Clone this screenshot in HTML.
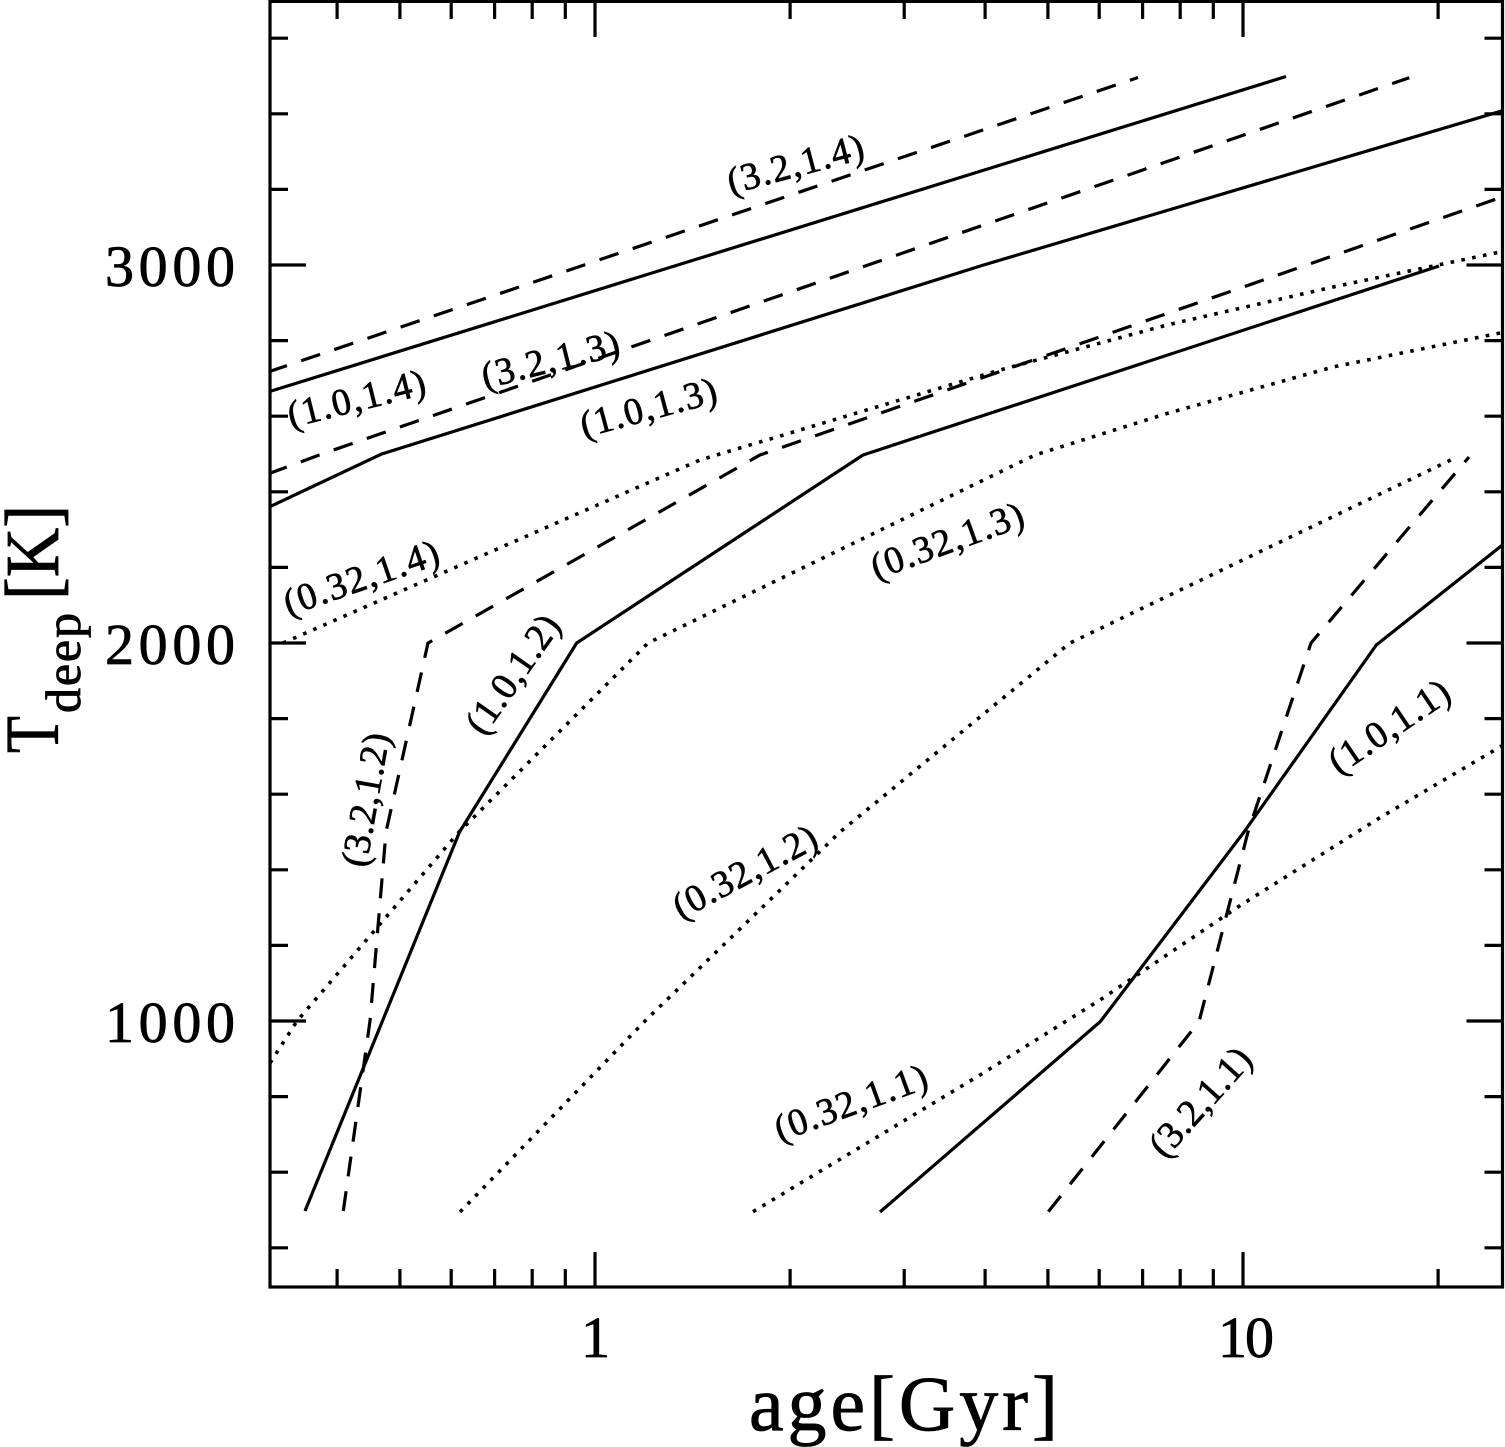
<!DOCTYPE html>
<html>
<head>
<meta charset="utf-8">
<style>
html,body{margin:0;padding:0;background:#fff;}
svg{display:block;}
text{font-family:"Liberation Serif","DejaVu Serif",serif;fill:#000;}
</style>
</head>
<body>
<svg width="1505" height="1447" viewBox="0 0 1505 1447" xmlns="http://www.w3.org/2000/svg">
<rect x="0" y="0" width="1505" height="1447" fill="#fff"/>
<defs>
<clipPath id="pa"><rect x="270" y="1.4" width="1232.6" height="1285.6"/></clipPath>
</defs>

<!-- ticks -->
<g stroke="#000" stroke-width="3.2" fill="none">
<path d="M337.1,1287V1269 M399.9,1287V1269 M451.2,1287V1269 M494.6,1287V1269 M532.2,1287V1269 M565.3,1287V1269 M790.1,1287V1269 M904.2,1287V1269 M985.1,1287V1269 M1047.9,1287V1269 M1099.2,1287V1269 M1142.6,1287V1269 M1180.2,1287V1269 M1213.3,1287V1269 M1438.1,1287V1269"/>
<path d="M595,1287V1252 M1243,1287V1252"/>
<path d="M337.1,1.4V19 M399.9,1.4V19 M451.2,1.4V19 M494.6,1.4V19 M532.2,1.4V19 M565.3,1.4V19 M790.1,1.4V19 M904.2,1.4V19 M985.1,1.4V19 M1047.9,1.4V19 M1099.2,1.4V19 M1142.6,1.4V19 M1180.2,1.4V19 M1213.3,1.4V19 M1438.1,1.4V19"/>
<path d="M595,1.4V37 M1243,1.4V37"/>
<path d="M270,1247.8H288 M270,1172.2H288 M270,1096.6H288 M270,945.4H288 M270,869.8H288 M270,794.2H288 M270,718.6H288 M270,567.4H288 M270,491.8H288 M270,416.2H288 M270,340.6H288 M270,189.4H288 M270,113.8H288 M270,38.2H288"/>
<path d="M270,1021H306 M270,643H306 M270,265H306"/>
<path d="M1502.5,1247.8H1484.5 M1502.5,1172.2H1484.5 M1502.5,1096.6H1484.5 M1502.5,945.4H1484.5 M1502.5,869.8H1484.5 M1502.5,794.2H1484.5 M1502.5,718.6H1484.5 M1502.5,567.4H1484.5 M1502.5,491.8H1484.5 M1502.5,416.2H1484.5 M1502.5,340.6H1484.5 M1502.5,189.4H1484.5 M1502.5,113.8H1484.5 M1502.5,38.2H1484.5"/>
<path d="M1502.5,1021H1466.5 M1502.5,643H1466.5 M1502.5,265H1466.5"/>
</g>

<!-- data -->
<g clip-path="url(#pa)" fill="none" stroke="#000" stroke-width="3.2" stroke-linejoin="round">
<path d="M268,392 L1286,76.5"/>
<path d="M268,507.6 L381.7,454 L983.6,265 L1505,110"/>
<path d="M305,1211 L459.5,832 L576.7,643 L863,455 L1439,266"/>
<path d="M880,1212 L1100.4,1021.5 L1244,832 L1376.3,645 L1505,543"/>
</g>
<g clip-path="url(#pa)" fill="none" stroke="#000" stroke-width="3.2" stroke-dasharray="20 15">
<path d="M268,372 L1138,77.5"/>
<path d="M268,474 L322,454 L1409.3,77.7"/>
<path d="M343.3,1211 L370,1021 L386,832 L428,643 L760,455 L1505,196"/>
<path d="M1048.3,1211.7 L1199,1021.7 L1248,832 L1311,643 L1469,457"/>
</g>
<g clip-path="url(#pa)" fill="none" stroke="#000" stroke-width="3.6" stroke-dasharray="3.6 7.4">
<path d="M283,643 L700,460 L1000,370 L1167,325 L1333,287 L1505,251"/>
<path d="M270,1063 L297,1021 L459,832 L648,643 L1035,455 L1167,413.5 L1333,367 L1505,332"/>
<path d="M460,1212 L645,1021 L840,832 L1070,643 L1457,457"/>
<path d="M753,1211.7 L980,1075 L1100,1000 L1241,905 L1381,817 L1505,744"/>
</g>

<!-- frame -->
<rect x="270" y="1.4" width="1232.5" height="1285.6" fill="none" stroke="#000" stroke-width="3.2"/>

<!-- curve labels -->
<g font-size="38" text-anchor="middle" stroke="#000" stroke-width="0.7">
<text x="796" y="166.5" dy="10" textLength="140" lengthAdjust="spacing" transform="rotate(-15 796 166.5)">(3.2,1.4)</text>
<text x="357" y="401" dy="10" textLength="141" lengthAdjust="spacing" transform="rotate(-14 357 401)">(1.0,1.4)</text>
<text x="551" y="362" dy="10" textLength="141" lengthAdjust="spacing" transform="rotate(-14 551 362)">(3.2,1.3)</text>
<text x="649" y="410" dy="10" textLength="140" lengthAdjust="spacing" transform="rotate(-15 649 410)">(1.0,1.3)</text>
<text x="362" y="580" dy="10" textLength="162" lengthAdjust="spacing" transform="rotate(-19 362 580)">(0.32,1.4)</text>
<text x="948" y="543" dy="10" textLength="160" lengthAdjust="spacing" transform="rotate(-20 948 543)">(0.32,1.3)</text>
<text x="514.7" y="675.5" dy="10" textLength="136" lengthAdjust="spacing" transform="rotate(-55 514.7 675.5)">(1.0,1.2)</text>
<text x="368" y="800" dy="10" textLength="135" lengthAdjust="spacing" transform="rotate(-80 368 800)">(3.2,1.2)</text>
<text x="746" y="874" dy="10" textLength="158" lengthAdjust="spacing" transform="rotate(-28 746 874)">(0.32,1.2)</text>
<text x="1390.5" y="728.5" dy="10" textLength="138" lengthAdjust="spacing" transform="rotate(-34 1390.5 728.5)">(1.0,1.1)</text>
<text x="851.7" y="1105" dy="10" textLength="160" lengthAdjust="spacing" transform="rotate(-20 851.7 1105)">(0.32,1.1)</text>
<text x="1202" y="1103.5" dy="10" textLength="133" lengthAdjust="spacing" transform="rotate(-48 1202 1103.5)">(3.2,1.1)</text>
</g>

<!-- tick labels -->
<g font-size="58" stroke="#000" stroke-width="0.8">
<text x="235" y="286" text-anchor="end" textLength="130" lengthAdjust="spacing">3000</text>
<text x="235" y="664" text-anchor="end" textLength="130" lengthAdjust="spacing">2000</text>
<text x="235" y="1042" text-anchor="end" textLength="130" lengthAdjust="spacing">1000</text>
<text x="595.5" y="1357" text-anchor="middle">1</text>
<text x="1246" y="1357" text-anchor="middle" textLength="56" lengthAdjust="spacing">10</text>
</g>

<!-- axis titles -->
<text x="749" y="1430" font-size="78" textLength="309" lengthAdjust="spacing" stroke="#000" stroke-width="0.8">age[Gyr]</text>

<g transform="translate(58,753) rotate(-90)" stroke="#000" stroke-width="0.8">
<text x="0" y="0" font-size="76" textLength="37" lengthAdjust="spacingAndGlyphs">T</text>
<text x="40" y="22" font-size="50" textLength="100" lengthAdjust="spacing">deep</text>
<text x="153" y="0" font-size="76" textLength="95" lengthAdjust="spacingAndGlyphs">[K]</text>
</g>
</svg>
</body>
</html>
